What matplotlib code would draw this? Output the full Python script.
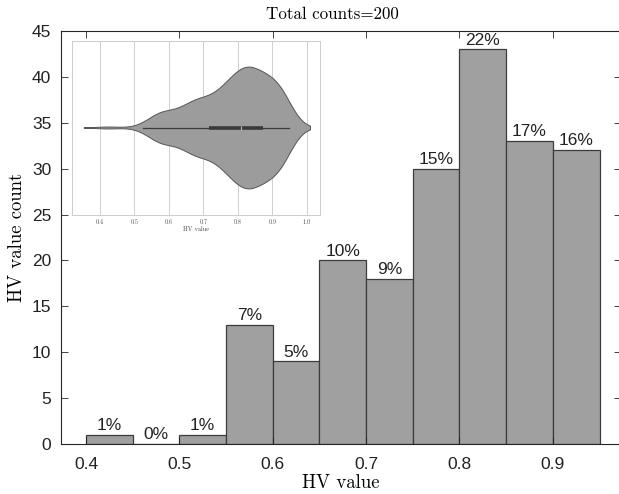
import numpy as np
import matplotlib.pyplot as plt

# histogram of HV values (bin edges and counts)
bin_left = [0.40, 0.45, 0.50, 0.55, 0.60, 0.65, 0.70, 0.75, 0.80, 0.85, 0.90]
counts = [1, 0, 1, 13, 9, 20, 18, 30, 43, 33, 32]
bin_w = 0.05
xticks = [0.4, 0.5, 0.6, 0.7, 0.8, 0.9]
yticks = [0, 5, 10, 15, 20, 25, 30, 35, 40, 45]
inset_ticks = [0.4, 0.5, 0.6, 0.7, 0.8, 0.9, 1.0]

total = sum(counts)
bar_col = '#a0a0a0'
edge_col = '#3c3c3c'
sans = 'Liberation Sans'
serif = 'cmr10'

fig = plt.figure(figsize=(6.19, 4.94), dpi=100)
ax = fig.add_axes([61/619, 1-444/494, 560/619, 413/494])

ax.bar(bin_left, counts, width=bin_w, align='edge', color=bar_col,
       edgecolor=edge_col, linewidth=0.9)
for x, c in zip(bin_left, counts):
    pct = int(np.floor(c / total * 100 + 0.5))
    ax.text(x + bin_w/2, c + 0.2, '%d%%' % pct, ha='center', va='bottom',
            fontsize=12.5, family=sans, color='#222222')

ax.set_xlim(0.3732, 0.973)
ax.set_ylim(0, 45)
ax.set_xticks(xticks)
ax.set_yticks(yticks)
ax.set_xticklabels(['%.1f' % t for t in xticks])
ax.tick_params(direction='in', top=True, right=True, length=5, width=0.6,
               labelsize=12.5, colors='#222222')
ax.tick_params(axis='x', pad=9)
ax.tick_params(axis='y', pad=7)
for lab in ax.get_xticklabels() + ax.get_yticklabels():
    lab.set_family(sans)
for s in ax.spines.values():
    s.set_linewidth(0.8)
    s.set_color('#262626')
ax.set_xlabel('HV value', family=serif, fontsize=13.5, labelpad=2)
ax.set_ylabel('HV value count', family=serif, fontsize=13.5, labelpad=4)
ax.set_title('Total counts=200', family=serif, fontsize=12.2, pad=9, x=0.485)

# inset violin, samples spread evenly inside each bin
samples = []
for x, c in zip(bin_left, counts):
    for i in range(c):
        samples.append(x + bin_w * (i + 0.5) / c)
samples = np.array(samples)

bw = 0.034
grid = np.linspace(samples.min() - 2.1*bw, samples.max() + 1.8*bw, 300)
dens = np.exp(-0.5 * ((grid[:, None] - samples[None, :]) / bw)**2).sum(axis=1)
half = dens / dens.max() * 0.35

q1, med, q3 = np.percentile(samples, [25, 50, 75])
iqr = q3 - q1
lo_w = samples[samples >= q1 - 1.5*iqr].min()
hi_w = samples[samples <= q3 + 1.5*iqr].max()

ia = fig.add_axes([71.7/619, 1-215/494, 248.3/619, 174/494])
vx = np.concatenate([grid, grid[::-1]])
vy = np.concatenate([1 + half, (1 - half)[::-1]])
ia.fill(vx, vy, facecolor='#9c9c9c', edgecolor='#555555', linewidth=0.7, zorder=2)
ia.plot([lo_w, hi_w], [1, 1], color='#3a3a3a', lw=0.9, zorder=3)
ia.plot([q1, q3], [1, 1], color='#3a3a3a', lw=2.6, solid_capstyle='butt', zorder=4)
ia.plot([med], [1], marker='|', color='#bbbbbb', ms=3, mew=0.8, zorder=5)
ia.set_xlim(0.318, 1.038)
ia.set_ylim(0.5, 1.5)
ia.set_xticks(inset_ticks)
ia.set_xticklabels(['%.1f' % t for t in inset_ticks])
ia.set_yticks([])
ia.grid(axis='x', color='#cfcfcf', lw=0.7)
ia.set_axisbelow(True)
ia.tick_params(axis='x', length=0, labelsize=4.5, pad=3, colors='#555555')
for lab in ia.get_xticklabels():
    lab.set_family(serif)
for s in ia.spines.values():
    s.set_color('#cccccc')
    s.set_linewidth(0.7)
ia.set_xlabel('HV value', family=serif, fontsize=4.5, labelpad=1, color='#444444')

fig.savefig('out.png', dpi=100)
